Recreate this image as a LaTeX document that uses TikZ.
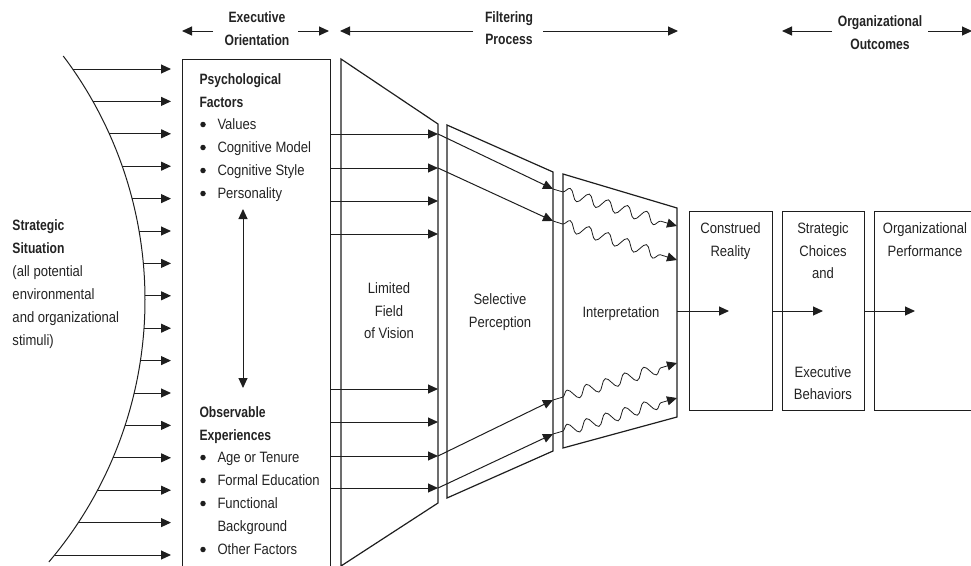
\documentclass[tikz,border=0pt]{standalone}
\usepackage{fontspec}
\setmainfont{Liberation Sans}[FakeStretch=0.87,BoldFeatures={FakeStretch=0.81}]
\usetikzlibrary{arrows.meta,decorations.pathmorphing}
\definecolor{ink}{RGB}{30,30,30}
\definecolor{txt}{RGB}{35,35,35}
\tikzset{
  arr/.style={-{Triangle[length=10pt,width=9pt]}},
  darr/.style={{Triangle[length=10pt,width=9pt]}-{Triangle[length=10pt,width=9pt]}},
  lbl/.style={inner sep=0pt,anchor=base,text=txt,font=\fontsize{15}{17}\selectfont},
  lbll/.style={lbl,anchor=base west},
  hdr/.style={lbl,font=\fontsize{15}{17}\selectfont\bfseries},
  hdrl/.style={lbll,font=\fontsize{15}{17}\selectfont\bfseries},
  bul/.style={circle,fill=ink,inner sep=0pt,minimum size=5.5pt},
  box/.style={draw=ink,line width=1.2pt,inner sep=0pt,anchor=north west},
  wavy/.style={arr,line width=0.8pt,decorate,decoration={snake,amplitude=5.5pt,segment length=20pt,pre length=10pt,post length=10pt}}
}
\begin{document}
\begin{tikzpicture}[x=1pt,y=-1pt,line width=1pt,draw=ink]
\useasboundingbox (0,0) rectangle (971,565);

% ---------- headers ----------
\node[hdr] (h1a) at (257,22) {Executive};
\node[hdr] (h1b) at (257,45) {Orientation};
\coordinate (h1l) at (213,31); \coordinate (h1lt) at (182,31);
\coordinate (h1r) at (298,31); \coordinate (h1rt) at (329,31);
\draw[arr] (h1l) -- (h1lt);
\draw[arr] (h1r) -- (h1rt);

\node[hdr] (h2a) at (509,22) {Filtering};
\node[hdr] (h2b) at (509,44) {Process};
\coordinate (h2l) at (473,31); \coordinate (h2lt) at (340,31);
\coordinate (h2r) at (543,31); \coordinate (h2rt) at (678,31);
\draw[arr] (h2l) -- (h2lt);
\draw[arr] (h2r) -- (h2rt);

\node[hdr] (h3a) at (880,26) {Organizational};
\node[hdr] (h3b) at (880,49) {Outcomes};
\coordinate (h3l) at (832,31); \coordinate (h3lt) at (782,31);
\coordinate (h3r) at (928,31); \coordinate (h3rt) at (972,31);
\draw[arr] (h3l) -- (h3lt);
\draw[arr] (h3r) -- (h3rt);

% ---------- strategic situation ----------
\draw plot[domain=56:562,samples=80,smooth] ({-260+100*sqrt(16.4025-((\x-300)/100)^2)},\x);
\foreach \i in {0,...,15} {
  \pgfmathsetmacro\yy{69+32.4*\i}
  \pgfmathsetmacro\xx{-260+100*sqrt(16.4025-((\yy-300)/100)^2)}
  \coordinate (s\i) at (\xx,\yy);
  \coordinate (t\i) at (171,\yy);
  \draw[arr] (s\i) -- (t\i);
}
\node[hdrl] (ss1) at (12,230) {Strategic};
\node[hdrl] (ss2) at (12,253) {Situation};
\node[lbll] (ss3) at (12,276) {(all potential};
\node[lbll] (ss4) at (12,299) {environmental};
\node[lbll] (ss5) at (12,322) {and organizational};
\node[lbll] (ss6) at (12,345) {stimuli)};

% ---------- executive orientation box ----------
\node[box,minimum width=148pt,minimum height=520pt] (eo) at (182,59) {};
\node[hdrl] (pf1) at (199,84) {Psychological};
\node[hdrl] (pf2) at (199,107) {Factors};
\foreach \t/\y [count=\k] in {Values/129,Cognitive Model/152,Cognitive Style/175,Personality/198} {
  \node[bul] (pb\k) at (203,\y-4.5) {};
  \node[lbll] (pt\k) at (217,\y) {\t};
}
\node[hdrl] (oe1) at (199,417) {Observable};
\node[hdrl] (oe2) at (199,440) {Experiences};
\foreach \t/\y [count=\k] in {Age or Tenure/462,Formal Education/485,Functional/508,Other Factors/554} {
  \node[bul] (ob\k) at (203,\y-4.5) {};
  \node[lbll] (ot\k) at (217,\y) {\t};
}
\node[lbll] (ot5) at (217,531) {Background};
\coordinate (da) at (243,209); \coordinate (db) at (243,388);
\draw[darr] (da) -- (db);

% ---------- limited field of vision ----------
\coordinate (L1) at (341,59); \coordinate (L2) at (438,124);
\coordinate (L3) at (438,503); \coordinate (L4) at (341,566);
\draw[line width=1.2pt] (L1) -- (L2) -- (L3) -- (L4) -- cycle;
\node[lbl] (lf1) at (389,293) {Limited};
\node[lbl] (lf2) at (389,316) {Field};
\node[lbl] (lf3) at (389,338) {of Vision};

\foreach \y [count=\k] in {134,168,201,234,389,422,456,488} {
  \coordinate (a\k) at (eo.east |- 0,\y);
  \coordinate (b\k) at (438,\y);
  \draw[arr] (a\k) -- (b\k);
}

% ---------- selective perception ----------
\coordinate (S1) at (447,125); \coordinate (S2) at (553,172);
\coordinate (S3) at (553,451); \coordinate (S4) at (447,498);
\draw[line width=1.2pt] (S1) -- (S2) -- (S3) -- (S4) -- cycle;
\node[lbl] (sp1) at (500,304) {Selective};
\node[lbl] (sp2) at (500,327) {Perception};

\coordinate (c1) at (553,189); \coordinate (c2) at (553,221);
\coordinate (c3) at (553,400); \coordinate (c4) at (553,434);
\draw[arr] (b1) -- (c1);
\draw[arr] (b2) -- (c2);
\draw[arr] (b7) -- (c3);
\draw[arr] (b8) -- (c4);

% ---------- interpretation ----------
\coordinate (I1) at (563,174); \coordinate (I2) at (677,208);
\coordinate (I3) at (677,417); \coordinate (I4) at (563,448);
\draw[line width=1.2pt] (I1) -- (I2) -- (I3) -- (I4) -- cycle;
\node[lbl] (ip) at (621,317) {Interpretation};

\coordinate (w1) at (677,226); \coordinate (w2) at (677,260);
\coordinate (w3) at (677,363); \coordinate (w4) at (677,398);
\draw[wavy] (c1) -- (w1);
\draw[wavy] (c2) -- (w2);
\draw[wavy] (c3) -- (w3);
\draw[wavy] (c4) -- (w4);

% ---------- outcome boxes ----------
\node[box,minimum width=83pt,minimum height=199pt] (cr) at (689,211) {};
\node[box,minimum width=82pt,minimum height=199pt] (sc) at (782,211) {};
\node[box,minimum width=120pt,minimum height=199pt] (op) at (874,211) {};

\node[lbl] (cr1) at (730.5,233) {Construed};
\node[lbl] (cr2) at (730.5,256) {Reality};
\node[lbl] (sc1) at (823,233) {Strategic};
\node[lbl] (sc2) at (823,256) {Choices};
\node[lbl] (sc3) at (823,278) {and};
\node[lbl] (sc4) at (823,377) {Executive};
\node[lbl] (sc5) at (823,399) {Behaviors};
\node[lbl] (op1) at (925,233) {Organizational};
\node[lbl] (op2) at (925,256) {Performance};

\coordinate (ip0) at (677,311);
\coordinate (cr0) at (729,311);
\coordinate (sc0) at (823,311);
\coordinate (op0) at (915,311);
\draw[arr] (ip0) -- (cr0);
\draw[arr] (cr.east |- cr0) -- (sc0);
\draw[arr] (sc.east |- sc0) -- (op0);
\end{tikzpicture}
\end{document}
